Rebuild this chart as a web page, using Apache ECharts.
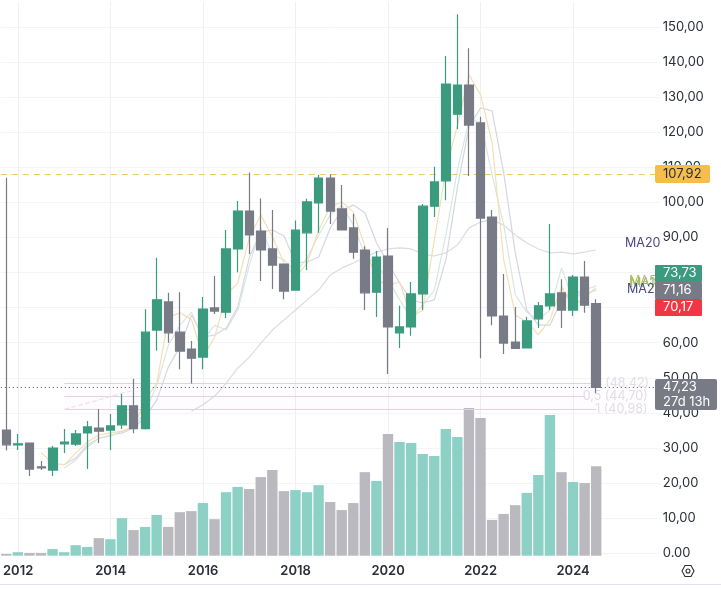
<!DOCTYPE html>
<html>
<head>
<meta charset="utf-8">
<style>html,body{margin:0;padding:0;background:#fff}#c{width:721px;height:589px}</style>
<script src="https://cdn.jsdelivr.net/npm/echarts@6/dist/echarts.min.js"></script>
</head>
<body>
<div id="c"></div>
<script>
// Quarterly candles, Q4 2011 to Q3 2024
const opens = [35.1,30.9,31.4,24.6,23.7,31.2,31.1,34.3,35.7,35.1,36.6,42.0,35.5,63.6,71.6,63.0,58.2,55.9,69.9,68.7,86.7,97.5,91.8,86.7,82.4,75.0,91.3,99.8,106.9,98.1,92.7,86.4,74.4,84.7,62.8,64.5,73.9,98.9,106.1,125.1,133.4,122.6,95.8,67.6,60.2,58.5,66.8,70.5,74.2,69.3,78.7,71.16];
const closes = [30.9,31.2,24.0,24.3,30.0,31.7,34.0,36.0,34.8,36.3,42.0,35.5,63.0,72.2,62.8,57.6,55.6,69.6,69.0,86.7,97.5,90.7,86.4,82.1,74.7,92.1,100.1,106.9,97.5,92.1,85.8,74.2,84.4,64.5,64.5,73.9,98.9,105.8,133.7,133.4,122.0,95.5,67.6,59.9,58.4,66.2,70.5,73.9,69.3,78.7,70.7,47.23];
const lows = [29.3,29.4,22.0,23.7,22.0,28.6,30.6,24.0,31.4,29.4,35.4,34.2,35.3,57.7,60.0,52.4,48.4,52.4,68.2,67.0,80.1,85.3,77.6,75.3,72.4,75.0,80.7,91.3,93.8,92.0,83.9,69.3,67.3,51.1,58.5,62.0,69.3,95.8,100.6,120.9,107.5,55.6,65.0,56.8,58.3,58.4,64.2,69.3,64.2,67.6,68.5,45.7];
const highs = [107.0,34.0,31.5,26.3,30.6,35.4,35.1,37.7,41.1,39.7,45.4,49.7,69.5,84.2,74.2,74.4,60.5,73.0,79.0,92.1,100.4,108.5,101.1,97.8,82.5,94.8,101.0,107.8,108.0,104.9,96.7,87.5,86.1,92.7,70.5,77.3,99.5,110.1,141.7,153.6,143.9,124.4,97.8,79.6,70.2,67.3,71.6,93.8,78.1,79.3,83.3,72.4];
const volumes = [0.5,1.0,0.8,0.8,1.9,1.0,3.0,2.5,5.0,4.7,10.7,7.3,8.2,11.6,8.2,12.4,12.7,15.0,10.4,18.1,19.6,19.0,22.4,24.4,18.4,18.7,18.1,20.1,15.3,13.0,15.0,23.8,21.3,34.7,32.4,32.1,29.0,28.4,36.1,33.8,42.1,39.2,10.2,11.9,14.4,17.9,23.0,40.1,23.8,21.0,20.7,25.5];

// Moving averages; a dash marks quarters before each one starts
const ma5 = ['-','-','-',28.6,25.7,25.2,28.6,31.7,33.7,34.3,34.8,36.0,43.7,48.5,67.3,68.5,66.5,55.9,61.6,73.6,77.0,90.1,96.4,90.1,82.7,78.7,82.7,92.1,98.7,100.1,97.2,87.3,77.9,76.4,77.3,67.3,69.3,89.3,109.2,122.0,136.3,130.6,116.9,83.6,67.9,65.9,62.2,66.5,75.9,70.2,73.0,75.6];
const ma10 = ['-','-','-','-','-',24.3,26.6,30.3,32.8,33.4,34.8,36.0,40.3,47.9,59.3,65.0,68.7,60.8,65.0,63.6,69.3,82.1,92.7,85.0,83.6,80.1,84.1,90.7,96.4,99.2,93.5,85.0,82.1,77.9,72.2,67.0,70.7,75.0,90.7,109.2,123.4,122.9,107.8,93.5,73.6,68.7,66.5,69.3,81.3,72.2,75.0,76.2];
const ma20 = ['-','-','-','-','-',25.2,27.2,30.9,32.8,33.7,34.3,35.7,38.8,43.7,53.1,58.8,67.9,61.6,62.2,64.2,70.2,84.4,91.5,92.1,90.4,82.7,83.0,84.4,92.7,97.8,99.2,97.0,88.4,82.7,77.0,72.2,71.3,72.2,83.6,104.4,121.5,126.9,126.0,108.3,85.6,69.3,65.0,65.0,72.2,75.0,73.9,75.0];
const ma200 = ['-','-','-','-','-','-','-','-','-','-','-','-','-','-','-','-',40.5,42.3,44.8,48.5,52.8,55.9,59.9,63.6,66.5,69.3,72.2,75.0,79.3,81.3,82.7,84.4,85.8,86.7,87.0,86.7,85.3,84.7,85.6,87.8,92.7,94.4,95.0,93.5,90.7,88.4,86.7,85.6,85.8,85.3,85.8,86.4];

// Fibonacci retracement levels and reference prices
const fibLevels = [48.42, 44.70, 40.98];
const fibLabels = ['(48,42)', '0,5 (44,70)', '1 (40,98)'];
const fibTrend = [40.98, 46.5];
const resistance = 107.92;
const lastClose = 47.23;
const priceTicks = { min: 0, max: 157, interval: 10 };
const yearLabels = ['2012','2014','2016','2018','2020','2022','2024'];

// One category per quarter, with empty quarters as right-hand margin
const categories = ['2011-Q4'];
for (let y = 2012; y <= 2025; y++) for (let q = 1; q <= 4; q++) {
  if (categories.length < 57) categories.push(y + '-Q' + q);
}
const isYearTick = (i) => {
  const c = categories[i];
  return c.endsWith('-Q1') && yearLabels.includes(c.slice(0, 4));
};

const UP = '#3a9b7e', DOWN = '#787b86', VOL_UP = '#8dd1c6', VOL_DOWN = '#b9b9bf';
const FONT = 'Inter, Roboto, sans-serif';
const candles = opens.map((o, i) => [o, closes[i], lows[i], highs[i]]);
const volumeBars = volumes.map((v, i) => ({
  value: v,
  itemStyle: { color: closes[i] >= opens[i] ? VOL_UP : VOL_DOWN }
}));

const maLine = (name, data, color) => ({
  name, type: 'line', data, xAxisIndex: 0, yAxisIndex: 0, z: 2,
  showSymbol: false, symbol: 'none', silent: true, connectNulls: false,
  lineStyle: { color, width: 1.2 }
});

const priceTag = (y, h, w, fill, label, textColor, radius) => ({
  type: 'group', z: 100, children: [
    { type: 'rect', z: 100, shape: { x: 655, y, width: w, height: h, r: radius || 2 }, style: { fill } },
    { type: 'text', z: 101, style: { x: 663, y: y + h / 2, text: label, fill: textColor, font: '13px ' + FONT, verticalAlign: 'middle', lineHeight: 15 } }
  ]
});
const maTag = (x, y, label, color) => ({
  type: 'text', z: 50, style: { x, y, text: label, fill: color, font: '12.5px ' + FONT, verticalAlign: 'middle' }
});

const chart = echarts.init(document.getElementById('c'), null, { renderer: 'canvas' });
chart.setOption({
  animation: false,
  backgroundColor: '#fff',
  grid: [
    { left: 0.5, width: 659.3, top: 2.2, height: 551.1 },
    { left: 0.5, width: 659.3, top: 380.2, height: 175.5 }
  ],
  xAxis: [
    {
      type: 'category', data: categories, gridIndex: 0, boundaryGap: true,
      axisLine: { show: false }, axisTick: { show: false },
      axisLabel: {
        interval: (i) => isYearTick(i), formatter: (v) => v.slice(0, 4), margin: 11,
        color: '#2a2e39', fontFamily: FONT, fontSize: 13, fontWeight: 600
      },
      splitLine: { show: true, alignWithLabel: true, interval: (i) => isYearTick(i), lineStyle: { color: '#eff0f3', width: 1 } }
    },
    {
      type: 'category', data: categories, gridIndex: 1, boundaryGap: true, show: false
    }
  ],
  yAxis: [
    {
      type: 'value', gridIndex: 0, position: 'right', ...priceTicks,
      axisLine: { show: false }, axisTick: { show: false },
      axisLabel: {
        show: true, margin: 3, color: '#2a2e39', fontFamily: FONT, fontSize: 13,
        align: 'left', showMaxLabel: false, padding: [0, 0, 3, 0],
        formatter: (v) => v === 0 ? '0.00' : v.toFixed(2).replace('.', ',')
      },
      splitLine: { show: true, showMaxLine: false, lineStyle: { color: '#f3f4f6', width: 1 } }
    },
    { type: 'value', gridIndex: 1, min: 0, max: 50, show: false, splitLine: { show: false } }
  ],
  series: [
    {
      name: 'Volume', type: 'bar', xAxisIndex: 1, yAxisIndex: 1, data: volumeBars,
      barWidth: 10.4, z: 1, silent: true
    },
    maLine('MA200', ma200, '#dcdbe1'),
    maLine('MA20', ma20, '#d6d6e3'),
    maLine('MA10', ma10, '#d8e7e0'),
    maLine('MA5', ma5, '#f3dfb4'),
    {
      name: 'Price', type: 'candlestick', xAxisIndex: 0, yAxisIndex: 0, data: candles,
      barWidth: 9, z: 5,
      itemStyle: { color: UP, color0: DOWN, borderColor: UP, borderColor0: DOWN, borderWidth: 1.2 },
      markLine: {
        silent: true, symbol: 'none', animation: false,
        data: [
          // retracement levels, each with its ratio and price
          ...fibLevels.map((lv, k) => [
            { coord: [5, lv], lineStyle: { color: '#e2d3e4', width: 1.2, type: 'solid' } },
            {
              coord: [k === 1 ? 50 : 51, lv],
              label: { show: true, position: 'end', distance: [k === 0 ? 9 : k === 1 ? -2 : -1, 0], formatter: fibLabels[k], color: '#e4dbe7', fontFamily: FONT, fontSize: 12.5 }
            }
          ]),
          // trend line between the two anchors of the retracement
          [
            { coord: [5, fibTrend[0]], lineStyle: { color: '#ecdfec', width: 1.2, type: 'dashed' }, label: { show: false } },
            { coord: [11, fibTrend[1]] }
          ],
          // resistance level across the whole plot
          [
            { coord: [0, resistance], x: 0.8, lineStyle: { color: '#ecc873', width: 1, type: [6, 5] }, label: { show: false } },
            { coord: [56, resistance], x: 655 }
          ],
          // current close
          [
            { coord: [0, lastClose], x: 0.8, lineStyle: { color: '#50535e', width: 1.1, type: [1, 3] }, label: { show: false } },
            { coord: [56, lastClose], x: 655 }
          ]
        ]
      },
      markArea: {
        silent: true,
        itemStyle: { color: 'rgba(225,190,225,0.04)' },
        data: [
          [{ coord: [5, fibLevels[0]] }, { coord: [51, fibLevels[1]] }],
          [{ coord: [5, fibLevels[1]] }, { coord: [51, fibLevels[2]] }]
        ]
      }
    }
  ],
  graphic: [
    maTag(625, 243, 'MA20', '#4b4a86'),
    maTag(629, 281, 'MA5', '#c9b84a'),
    maTag(630, 283, 'MA10', '#8cc07c'),
    maTag(627, 289, 'MA20', '#4b4a86'),
    priceTag(165, 18, 55, '#f5bd4b', '107,92', '#2a2e39'),
    priceTag(265, 17, 47, UP, '73,73', '#ffffff', 1),
    priceTag(282, 17, 47, DOWN, '71,16', '#ffffff', 1),
    priceTag(299, 17, 47, '#f23645', '70,17', '#ffffff', 1),
    priceTag(379, 31, 62, DOWN, '47,23\n27d 13h', '#ffffff', 2),
    // settings glyph beside the time scale
    { type: 'polygon', z: 60, shape: { points: [[682, 571], [685, 565.5], [691, 565.5], [694, 571], [691, 576.5], [685, 576.5]] }, style: { fill: 'none', stroke: '#2a2e39', lineWidth: 1.1 } },
    { type: 'circle', z: 60, shape: { cx: 688, cy: 571, r: 2 }, style: { fill: 'none', stroke: '#2a2e39', lineWidth: 1.1 } },
    // lower border of the chart
    { type: 'line', z: 60, shape: { x1: 0, y1: 584.5, x2: 721, y2: 584.5 }, style: { stroke: '#e0e3eb', lineWidth: 1 } }
  ]
});
</script>
</body>
</html>
